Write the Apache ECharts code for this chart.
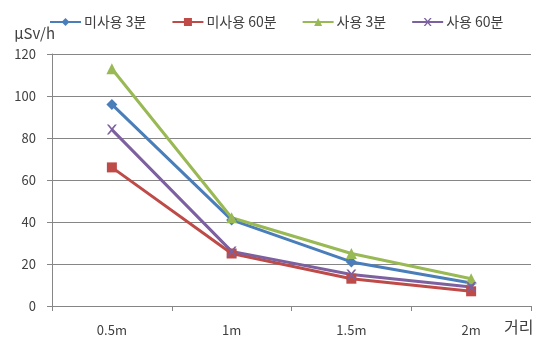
<!DOCTYPE html>
<html>
<head>
<meta charset="utf-8">
<script src="https://cdn.jsdelivr.net/npm/echarts@6/dist/echarts.min.js"></script>
<style>
  html, body { margin: 0; padding: 0; background: #fff; }
  #chart { width: 543px; height: 341px; }
</style>
</head>
<body>
<div id="chart"></div>
<script>
// Distance from source and measured dose rate
const categories = ['0.5m', '1m', '1.5m', '2m'];
const unused3 = [96, 41, 21, 11];
const unused60 = [66, 25, 13, 7];
const used3 = [113, 42, 25, 13];
const used60 = [84, 26, 15, 9];
const yTicks = { min: 0, max: 120, interval: 20 };

const FONT = '"Noto Sans CJK KR", "Noto Sans", sans-serif';
const TEXT = '#404040';

function line(name, data, color, symbol, size) {
  return {
    name, type: 'line', data,
    symbol, symbolSize: size,
    lineStyle: { color, width: 3 },
    itemStyle: { color, borderWidth: 0 },
    emphasis: { disabled: true }
  };
}

const chart = echarts.init(document.getElementById('chart'), null, { renderer: 'canvas' });
chart.setOption({
  animation: false,
  backgroundColor: '#fff',
  textStyle: { fontFamily: FONT },
  legend: {
    top: 10, left: 44,
    itemWidth: 31, itemHeight: 10, itemGap: 25,
    textStyle: { fontFamily: FONT, fontSize: 14, color: TEXT, padding: [0, 0, 0, -2] },
    data: ['미사용 3분', '미사용 60분', '사용 3분', '사용 60분']
  },
  grid: { left: 52, right: 12, top: 54, bottom: 35, containLabel: false },
  xAxis: {
    type: 'category', data: categories, boundaryGap: true,
    axisLine: { lineStyle: { color: '#868686', width: 1 } },
    axisTick: { show: true, alignWithLabel: false, length: 5, lineStyle: { color: '#868686' } },
    axisLabel: { color: TEXT, fontSize: 13, fontFamily: FONT, margin: 18 },
    splitLine: { show: false }
  },
  yAxis: {
    type: 'value', min: yTicks.min, max: yTicks.max, interval: yTicks.interval,
    name: 'μSv/h', nameLocation: 'end', nameGap: 13,
    nameTextStyle: { color: TEXT, fontSize: 15, fontFamily: FONT, align: 'right', padding: [0, -3, 0, 0] },
    axisLine: { show: true, lineStyle: { color: '#868686' } },
    axisTick: { show: true, length: 5, lineStyle: { color: '#868686' } },
    axisLabel: { color: TEXT, fontSize: 13, fontFamily: FONT, margin: 16 },
    splitLine: { lineStyle: { color: '#868686', width: 1 } }
  },
  graphic: [{
    type: 'text', left: 504, top: 319,
    style: { text: '거리', fill: TEXT, font: '16px ' + FONT }
  }],
  series: [
    line('미사용 3분', unused3, '#4A7EBB', 'diamond', 11),
    line('미사용 60분', unused60, '#BE4B48', 'rect', 10),
    line('사용 3분', used3, '#98B954', 'triangle', 11),
    line('사용 60분', used60, '#7D60A0', 'path://M0,0 L2,0 L5,3.5 L8,0 L10,0 L6,5 L10,10 L8,10 L5,6.5 L2,10 L0,10 L4,5 Z', 10)
  ]
});
</script>
</body>
</html>
